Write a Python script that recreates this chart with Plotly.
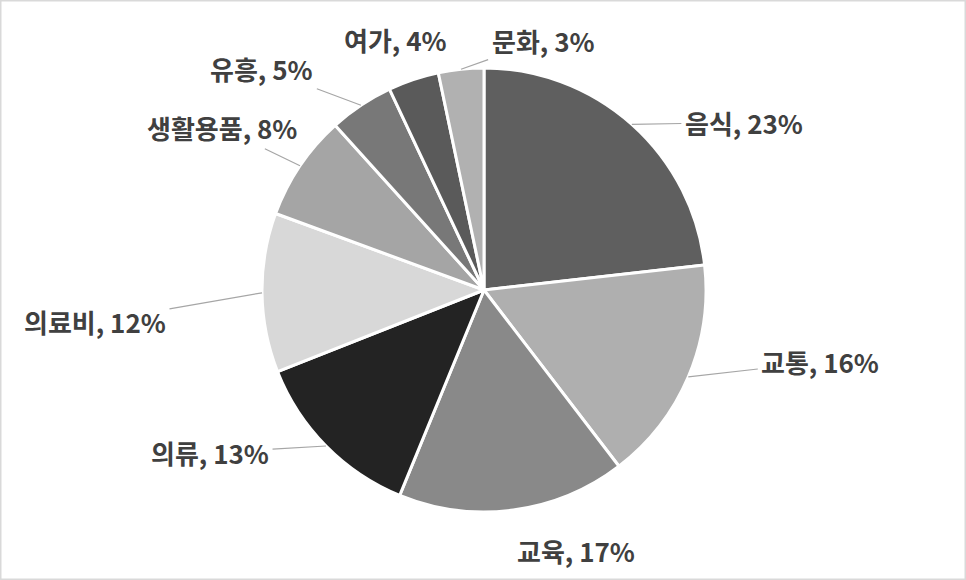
import math
import plotly.graph_objects as go

# spending share by category, clockwise from 12 o'clock
categories = ["음식", "교통", "교육", "의류", "의료비", "생활용품", "유흥", "여가", "문화"]
shares = [23.2, 16.4, 16.6, 12.8, 11.6, 7.7, 4.7, 3.7, 3.3]

colors = ["#5f5f5f", "#afafaf", "#898989", "#232323", "#d8d8d8",
          "#a5a5a5", "#787878", "#5a5a5a", "#b1b1b1"]

# label placement (pixel offset from the slice edge) and whether a leader line is drawn
label_offsets = [(112, -2), (132, -15), (63, 40), (-116, 7), (-167, 29),
                 (-78, -38), (-99, -37), (-18, -40), (82, -29)]
leaders = [True, True, False, True, True, True, True, False, True]

W, H = 966, 580
cx, cy, r = 484, 290, 222  # pie centre / radius in pixels

fig = go.Figure()
fig.add_trace(go.Pie(
    labels=categories,
    values=shares,
    sort=False,
    direction="clockwise",
    rotation=0,
    marker=dict(colors=colors, line=dict(color="white", width=3)),
    textinfo="none",
    hoverinfo="label+percent",
    showlegend=False,
    domain=dict(x=[(cx - r) / W, (cx + r) / W], y=[(H - cy - r) / H, (H - cy + r) / H]),
))

total = sum(shares)
cum = 0
for name, val, (ox, oy), lead in zip(categories, shares, label_offsets, leaders):
    mid = (cum + val / 2) / total * 2 * math.pi
    cum += val
    px_x = cx + r * math.sin(mid)
    px_y = cy - r * math.cos(mid)
    pct = round(val / total * 100)
    fig.add_annotation(
        x=px_x / W, y=1 - px_y / H, xref="paper", yref="paper",
        text=f"<b>{name}, {pct}%</b>",
        showarrow=True, arrowhead=0, arrowwidth=1.2,
        arrowcolor="#a6a6a6" if lead else "rgba(0,0,0,0)",
        ax=ox, ay=oy, standoff=0, startstandoff=2,
        font=dict(family="Noto Sans CJK KR", size=26, color="#404040"),
    )

# light gray frame around the chart
fig.add_shape(type="rect", xref="paper", yref="paper", x0=0, y0=0, x1=1, y1=1,
              line=dict(color="#d9d9d9", width=3))

fig.update_layout(
    width=W, height=H,
    margin=dict(l=0, r=0, t=0, b=0),
    paper_bgcolor="white",
    plot_bgcolor="white",
)

fig.write_html("out.html", config={"displayModeBar": False},
               post_script="document.body.style.margin='0';")
